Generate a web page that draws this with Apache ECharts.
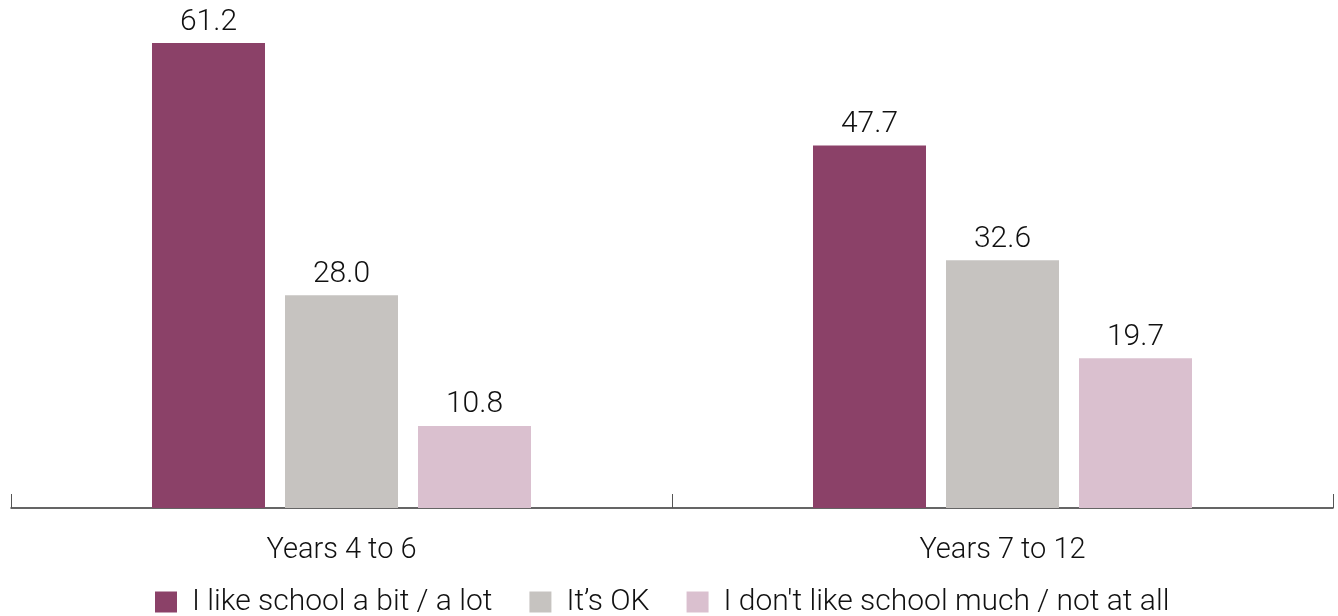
<!DOCTYPE html>
<html><head><meta charset="utf-8">
<script src="https://cdn.jsdelivr.net/npm/echarts@6/dist/echarts.min.js"></script>
<style>html,body{margin:0;padding:0;background:#fff}#c{width:1338px;height:616px}</style>
</head><body><div id="c"></div>
<script>
const categories = ["Years 4 to 6", "Years 7 to 12"];
const seriesNames = ["I like school a bit / a lot", "It\u2019s OK", "I don't like school much / not at all"];
const likeValues = [61.2, 47.7];
const okValues = [28.0, 32.6];
const dislikeValues = [10.8, 19.7];
const colors = ["#8b4168", "#c6c3c0", "#dac0cf"];
const FONT = "Roboto";
const chart = echarts.init(document.getElementById('c'), null, {renderer: 'canvas'});
const data = [likeValues, okValues, dislikeValues];
chart.setOption({
  animation: false,
  color: colors,
  textStyle: {fontFamily: FONT},
  grid: {left: 11, right: 5, top: 43, bottom: 108, containLabel: false},
  legend: {
    top: 582, left: 150,
    itemWidth: 22, itemHeight: 21, itemGap: 37,
    icon: 'rect',
    textStyle: {fontSize: 30, fontFamily: FONT, fontWeight: 300, color: '#111', padding: [0,0,0,10]},
    data: seriesNames
  },
  xAxis: {
    type: 'category', data: categories,
    axisLine: {lineStyle: {color: '#333', width: 1.5}},
    axisTick: {show: true, inside: true, length: 14, lineStyle: {color: '#555'}},
    axisLabel: {fontSize: 29, fontFamily: FONT, fontWeight: 300, color: '#111', margin: 28}
  },
  yAxis: {type: 'value', min: 0, max: 61.2, show: false, splitLine: {show: false}},
  series: data.map((d, i) => ({
    name: seriesNames[i], type: 'bar', data: d,
    barWidth: 113, barGap: '17.7%',
    itemStyle: {color: colors[i]},
    label: {show: true, position: 'top', distance: 6, fontSize: 30, fontFamily: FONT, fontWeight: 300, color: '#111',
      formatter: p => p.value.toFixed(1)}
  }))
});
</script></body></html>
